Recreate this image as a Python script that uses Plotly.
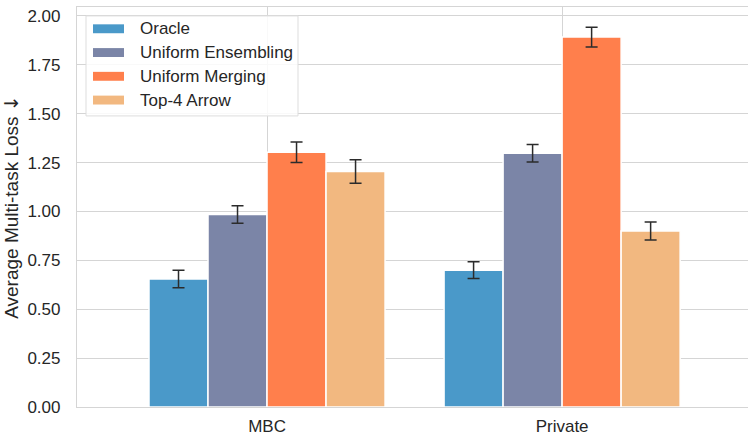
import plotly.graph_objects as go

# Data
categories = ["MBC", "Private"]
methods = ["Oracle", "Uniform Ensembling", "Uniform Merging", "Top-4 Arrow"]
oracle = [0.655, 0.700]
uniform_ensembling = [0.985, 1.298]
uniform_merging = [1.303, 1.892]
top4_arrow = [1.205, 0.900]
oracle_err = [0.045, 0.043]
uniform_ensembling_err = [0.045, 0.045]
uniform_merging_err = [0.052, 0.050]
top4_arrow_err = [0.060, 0.046]

values = [oracle, uniform_ensembling, uniform_merging, top4_arrow]
errors = [oracle_err, uniform_ensembling_err, uniform_merging_err, top4_arrow_err]
colors = ["#4a99c9", "#7b85a7", "#ff7f4c", "#f2b880"]

text_color = "#262626"
grid_color = "#d5d5d5"

fig = go.Figure()
for name, vals, errs, col in zip(methods, values, errors, colors):
    fig.add_trace(go.Bar(
        x=categories, y=vals, name=name,
        marker=dict(color=col, line=dict(color="white", width=1.5)),
        error_y=dict(type="data", array=errs, color="#2b2b2b", thickness=1.5, width=6),
        showlegend=False,
    ))

W, H = 748, 436
pl, pt, pb = 77, 7, 25

fig.update_layout(
    width=W, height=H,
    margin=dict(l=pl, r=0, t=pt, b=pb),
    paper_bgcolor="white", plot_bgcolor="white",
    barmode="group", bargap=0.2, bargroupgap=0,
    font=dict(family="Liberation Sans, Arial, sans-serif", size=17, color=text_color),
)
fig.update_xaxes(
    range=[-0.644, 1.63], showgrid=True, gridcolor=grid_color, gridwidth=1,
    showline=True, linecolor=grid_color, linewidth=1.2, mirror=True,
    ticks="", ticklabelstandoff=3, tickfont=dict(size=17, color=text_color),
)
fig.update_yaxes(
    range=[0, 2.046], tickvals=[0, 0.25, 0.5, 0.75, 1.0, 1.25, 1.5, 1.75, 2.0],
    tickformat=".2f", showgrid=True, gridcolor=grid_color, gridwidth=1,
    showline=True, linecolor=grid_color, linewidth=1.2, zeroline=False,
    ticks="", ticklabelstandoff=12, tickfont=dict(size=17, color=text_color),
    title=dict(
        text="Average Multi-task Loss <span style=\"font-family:'DejaVu Sans'\">↓</span>",
        font=dict(size=19, color=text_color), standoff=3,
    ),
)

# Legend box with wide colour patches
pw, ph = W - pl, H - pt - pb

def px(x):
    return (x - pl) / pw

def py(y):
    return 1 - (y - pt) / ph

fig.add_shape(type="rect", xref="paper", yref="paper",
              x0=px(86), x1=px(298), y0=py(117), y1=py(16),
              fillcolor="rgba(255,255,255,0.85)", line=dict(color="#dddddd", width=1), layer="above")
row_y = [29, 53, 77, 101]
for name, col, ry in zip(methods, colors, row_y):
    fig.add_shape(type="rect", xref="paper", yref="paper",
                  x0=px(93), x1=px(124), y0=py(ry + 4.5), y1=py(ry - 4.5),
                  fillcolor=col, line=dict(width=0), layer="above")
    fig.add_annotation(xref="paper", yref="paper", x=px(138), y=py(ry),
                       text=name, showarrow=False, xanchor="left", yanchor="middle",
                       font=dict(size=17, color=text_color))

fig.write_html("out.html")
